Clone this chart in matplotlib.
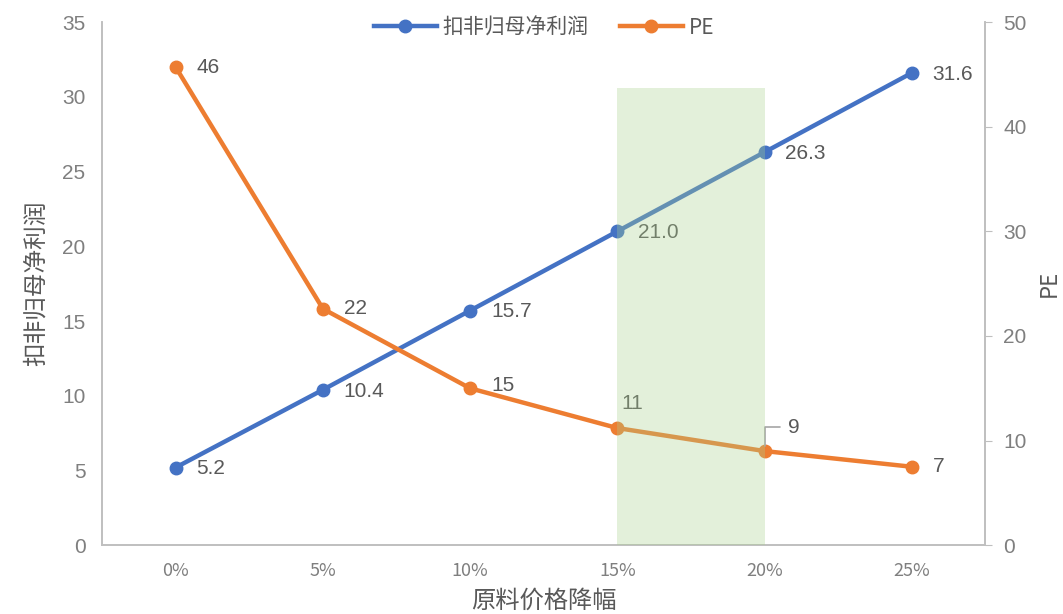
import matplotlib.pyplot as plt
from matplotlib.patches import Rectangle

plt.rcParams['font.family'] = ['Noto Sans CJK SC', 'DejaVu Sans']

categories = ['0%', '5%', '10%', '15%', '20%', '25%']
profit = [5.2, 10.4, 15.7, 21.0, 26.3, 31.6]
pe = [45.7, 22.6, 15.0, 11.2, 9.0, 7.5]
pe_labels = ['46', '22', '15', '11', '9', '7']
highlight = (3, 4)      # shaded range, category index
highlight_top = 30.6    # on left axis

blue = '#4472C4'
orange = '#ED7D31'
grey = '#595959'
tickgrey = '#7F7F7F'
spine = '#BFBFBF'
numfont = ['Liberation Sans', 'DejaVu Sans']

fig = plt.figure(figsize=(10.63, 6.14), dpi=100)
ax = fig.add_axes([0.096, 0.112, 0.831, 0.852])
ax2 = ax.twinx()

x = list(range(len(categories)))
l1, = ax.plot(x, profit, color=blue, lw=3.2, marker='o', ms=9, label='扣非归母净利润')
l2, = ax2.plot(x, pe, color=orange, lw=3.2, marker='o', ms=9, label='PE')

ax.set_xlim(-0.5, 5.5)
ax.set_ylim(0, 35)
ax2.set_ylim(0, 50)
ax.set_xticks(x)
ax.set_xticklabels(categories)
ax.set_yticks(range(0, 36, 5))
ax2.set_yticks(range(0, 51, 10))

for a in (ax, ax2):
    a.spines['top'].set_visible(False)
    for s in ('left', 'right', 'bottom'):
        a.spines[s].set_color(spine)
        a.spines[s].set_linewidth(1.2)
    a.tick_params(colors=tickgrey, labelsize=15)
    for lab in a.get_yticklabels():
        lab.set_family(numfont)
ax.tick_params(axis='y', length=0, pad=12)
ax.tick_params(axis='x', length=0, pad=12, labelsize=13)
ax2.tick_params(axis='y', length=5, color=spine, pad=8)

ax.set_xlabel('原料价格降幅', fontsize=17.5, color=grey, labelpad=6)
ax.set_ylabel('扣非归母净利润', fontsize=17, color=grey, labelpad=10)
ax2.set_ylabel('PE', fontsize=16, color=grey, labelpad=8)

for i, v in enumerate(profit):
    ax.annotate('%.1f' % v, (i, v), xytext=(15, -1), textcoords='offset points',
                va='center', ha='left', fontsize=15, color=grey, family=numfont)

offsets = [(15, 0), (15, 0), (15, 2), (3, 18), None, (15, 0)]
for i, (v, t) in enumerate(zip(pe, pe_labels)):
    if offsets[i] is None:
        ax2.annotate(t, (i, v), xytext=(17, 17), textcoords='offset points',
                     va='center', ha='left', fontsize=15, color=grey, family=numfont,
                     arrowprops=dict(arrowstyle='-', color='#A6A6A6', lw=1.2,
                                     connectionstyle='angle,angleA=0,angleB=90,rad=0',
                                     shrinkA=4, shrinkB=4))
    else:
        ax2.annotate(t, (i, v), xytext=offsets[i], textcoords='offset points',
                     va='center', ha='left', fontsize=15, color=grey, family=numfont)

ax2.add_patch(Rectangle((highlight[0], 0), highlight[1] - highlight[0], highlight_top,
                        transform=ax.transData, facecolor='#A9D18E', alpha=0.32,
                        edgecolor='none', zorder=20))

fig.legend(handles=[l1, l2], loc='center', bbox_to_anchor=(0.512, 0.955), ncol=2,
           frameon=False, fontsize=15, labelcolor=grey, handlelength=3,
           columnspacing=1.5, handletextpad=0.3)

fig.savefig('out.png', dpi=100)
